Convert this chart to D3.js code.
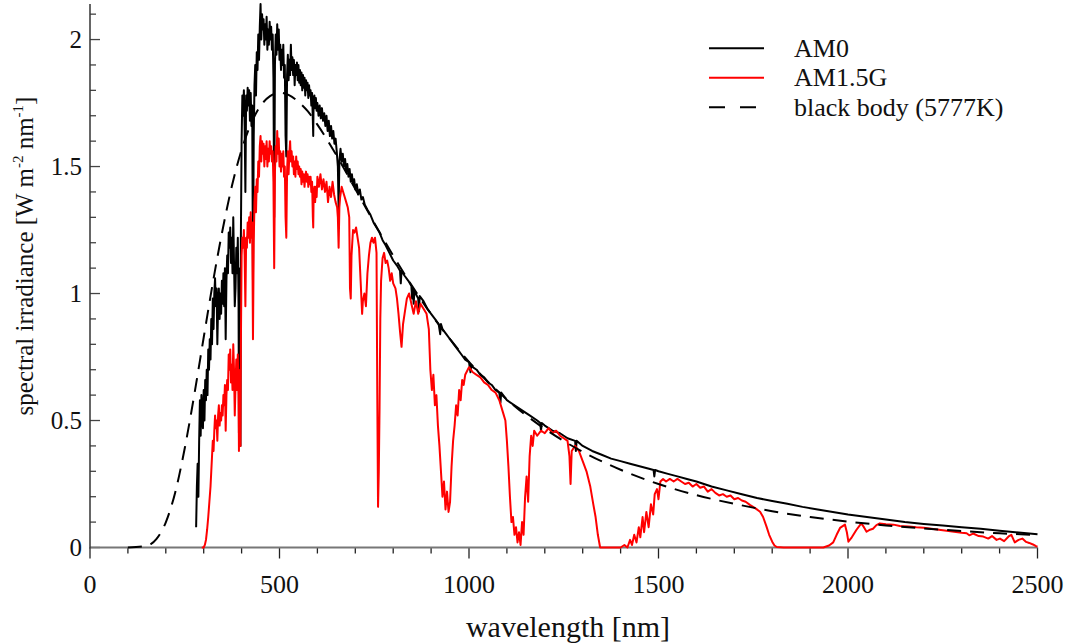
<!DOCTYPE html>
<html lang="en">
<head>
    <meta charset="utf-8">
    <title>Solar spectrum</title>
    <script src="https://cdn.jsdelivr.net/npm/d3@7"></script>
</head>
<style>
    body {
        margin: 0;
        background: #fff;
    }
    svg text {
        font-family: "Liberation Serif", "DejaVu Serif", serif;
        fill: #111;
    }
</style>
<body>
<script type="text/javascript">

    // AM0 spectrum [wavelength nm, W m-2 nm-1]
    var am0 = [
        [280,0.08],[282,0.24],[284,0.33],[286,0.20],[288,0.42],[290,0.58],[292,0.44],[294,0.60],[296,0.52],[298,0.47],
        [300,0.62],[302,0.50],[304,0.66],[306,0.58],[308,0.70],[310,0.60],[312,0.78],[314,0.70],[316,0.82],[318,0.74],
        [320,0.90],[322,0.80],[324,0.98],[326,0.86],[328,1.00],[330,1.06],[332,0.95],[334,1.02],[336,0.80],[338,0.96],
        [340,1.02],[342,0.90],[344,1.00],[346,0.92],[348,1.05],[350,0.96],[352,1.08],[354,0.95],[356,1.10],[358,0.82],
        [360,1.05],[362,1.15],[364,1.08],[366,1.24],[368,1.18],[370,1.26],[372,1.12],[374,1.22],[376,1.08],[378,1.30],
        [380,1.12],[382,0.95],[384,1.02],[386,1.18],[388,1.08],[390,1.22],[392,0.95],[393,0.45],[394,1.02],[396,1.10],
        [397,0.40],[398,1.20],[400,1.60],[402,1.78],[404,1.70],[406,1.80],[408,1.66],[410,1.40],[412,1.78],[414,1.72],
        [416,1.81],[418,1.74],[420,1.80],[422,1.68],[424,1.79],[426,1.66],[428,1.74],[430,1.05],[432,1.62],[434,1.82],
        [436,1.90],[438,1.78],[440,1.95],[442,1.88],[444,2.02],[446,1.92],[448,2.05],[450,2.14],[452,2.00],[454,2.10],
        [456,2.04],[458,2.08],[460,1.98],[462,2.06],[464,2.00],[466,2.09],[468,1.96],[470,2.04],[472,1.98],[474,2.07],
        [476,2.00],[478,2.05],[480,1.96],[482,2.02],[484,1.85],[486,1.30],[488,1.90],[490,2.02],[492,1.94],[494,2.06],
        [496,1.96],[498,2.04],[500,1.92],[502,1.98],[504,1.88],[506,1.96],[508,1.90],[510,1.98],[512,1.85],[514,1.90],
        [516,1.62],[518,1.54],[520,1.86],[522,1.94],[524,1.84],[526,1.92],[528,1.86],[530,1.98],[532,1.88],[534,1.93],
        [536,1.86],[538,1.92],[540,1.82],[542,1.90],[544,1.86],[546,1.91],[548,1.84],[550,1.90],[552,1.83],[554,1.88],
        [556,1.82],[558,1.87],[560,1.80],[562,1.86],[564,1.81],[566,1.85],[568,1.78],[570,1.84],[572,1.80],[574,1.83],
        [576,1.77],[578,1.82],[580,1.78],[582,1.80],[584,1.74],[586,1.79],[588,1.68],[589,1.62],[590,1.76],[592,1.78],
        [594,1.73],[596,1.77],[598,1.72],[600,1.75],[603,1.70],[606,1.74],[609,1.69],[612,1.73],[615,1.68],[618,1.71],
        [621,1.66],[624,1.70],[627,1.64],[630,1.68],[633,1.62],[636,1.66],[639,1.61],[642,1.64],[645,1.59],[648,1.61],
        [651,1.56],[654,1.50],[656,1.33],[658,1.52],[661,1.57],[664,1.52],[667,1.55],[670,1.50],[673,1.53],[676,1.48],
        [679,1.51],[682,1.46],[685,1.49],[688,1.44],[691,1.47],[694,1.43],[697,1.45],[700,1.41],[704,1.43],[708,1.39],
        [712,1.41],[716,1.37],[720,1.38],[725,1.35],[732,1.33],[740,1.31],[748,1.28],[756,1.26],[764,1.24],[772,1.21],
        [780,1.19],[790,1.16],[800,1.13],[810,1.11],[818,1.09],[820,1.04],[822,1.09],[830,1.07],[840,1.05],[848,1.03],
        [850,0.98],[852,1.02],[854,0.96],[856,1.01],[866,0.98],[868,0.93],[870,0.99],[880,0.97],[890,0.94],[900,0.92],
        [910,0.90],[920,0.88],[924,0.84],[926,0.88],[930,0.86],[940,0.84],[950,0.82],[960,0.80],[970,0.78],[980,0.76],
        [990,0.74],[1000,0.73],[1004,0.69],[1006,0.72],[1010,0.71],[1020,0.70],[1030,0.68],[1040,0.67],[1050,0.65],
        [1060,0.64],[1070,0.62],[1080,0.61],[1083,0.57],[1085,0.61],[1090,0.60],[1100,0.58],[1120,0.56],[1140,0.54],
        [1160,0.52],[1180,0.50],[1188,0.49],[1190,0.46],[1192,0.49],[1200,0.48],[1220,0.46],[1240,0.45],[1260,0.43],
        [1280,0.42],[1282,0.38],[1284,0.42],[1300,0.40],[1325,0.38],[1350,0.365],[1375,0.35],[1400,0.34],[1425,0.33],
        [1450,0.32],[1475,0.31],[1487,0.305],[1489,0.28],[1491,0.305],[1500,0.30],[1525,0.29],[1550,0.28],[1575,0.27],
        [1600,0.26],[1640,0.24],[1680,0.225],[1720,0.21],[1760,0.195],[1800,0.183],[1840,0.172],[1880,0.16],[1920,0.15],
        [1960,0.14],[2000,0.13],[2050,0.12],[2100,0.11],[2150,0.10],[2200,0.093],[2250,0.087],[2300,0.08],[2350,0.074],
        [2400,0.066],[2450,0.059],[2500,0.052]
    ];

    // AM1.5G spectrum [wavelength nm, W m-2 nm-1]
    var am15g = [
        [295,0],[300,0.0],[303,0.01],[306,0.03],[309,0.07],[312,0.12],[315,0.18],[318,0.24],[320,0.30],[322,0.36],
        [324,0.42],[326,0.38],[328,0.46],[330,0.52],[332,0.47],[334,0.50],[336,0.42],[338,0.52],[340,0.56],[342,0.48],
        [344,0.53],[346,0.50],[348,0.56],[350,0.52],[352,0.60],[354,0.56],[356,0.64],[358,0.46],[360,0.60],[362,0.66],
        [364,0.62],[366,0.76],[368,0.70],[370,0.78],[372,0.65],[374,0.72],[376,0.62],[378,0.80],[380,0.70],[382,0.52],
        [384,0.64],[386,0.74],[388,0.62],[390,0.76],[392,0.60],[393,0.38],[394,0.66],[396,0.70],[397,0.40],[398,0.78],
        [400,1.15],[402,1.22],[404,1.18],[406,1.25],[408,1.15],[410,0.95],[412,1.22],[414,1.18],[416,1.28],[418,1.22],
        [420,1.30],[422,1.20],[424,1.32],[426,1.22],[428,1.28],[430,0.82],[432,1.20],[434,1.36],[436,1.42],[438,1.32],
        [440,1.45],[442,1.40],[444,1.52],[446,1.46],[448,1.58],[450,1.62],[452,1.52],[454,1.60],[456,1.55],[458,1.59],
        [460,1.50],[462,1.58],[464,1.53],[466,1.60],[468,1.50],[470,1.57],[472,1.52],[474,1.60],[476,1.55],[478,1.58],
        [480,1.52],[482,1.56],[484,1.44],[486,1.10],[488,1.48],[490,1.58],[492,1.52],[494,1.64],[496,1.55],[498,1.61],
        [500,1.50],[502,1.56],[504,1.48],[506,1.55],[508,1.50],[510,1.56],[512,1.46],[514,1.50],[516,1.30],[518,1.22],
        [520,1.48],[522,1.56],[524,1.47],[526,1.55],[528,1.60],[530,1.52],[532,1.56],[534,1.50],[536,1.54],[538,1.47],
        [540,1.52],[542,1.46],[544,1.54],[546,1.49],[548,1.52],[550,1.47],[552,1.50],[554,1.46],[556,1.49],[558,1.43],
        [560,1.48],[562,1.44],[564,1.47],[566,1.42],[568,1.46],[570,1.48],[572,1.44],[574,1.47],[576,1.42],[578,1.46],
        [580,1.43],[582,1.46],[584,1.40],[586,1.44],[588,1.30],[589,1.26],[590,1.38],[592,1.42],[594,1.36],[596,1.42],
        [598,1.38],[600,1.46],[604,1.42],[608,1.47],[612,1.41],[616,1.45],[620,1.40],[624,1.44],[628,1.36],[632,1.42],
        [636,1.38],[640,1.44],[644,1.39],[648,1.36],[652,1.34],[654,1.30],[656,1.18],[658,1.34],[660,1.38],[664,1.42],
        [668,1.40],[672,1.38],[676,1.36],[680,1.34],[684,1.30],[686,1.02],[688,0.98],[690,1.15],[694,1.25],[698,1.24],
        [702,1.26],[706,1.22],[710,1.18],[714,1.05],[718,0.92],[720,0.97],[724,1.00],[728,0.95],[732,1.08],[736,1.15],
        [740,1.20],[744,1.22],[748,1.20],[752,1.22],[756,1.16],[758,0.60],[760,0.16],[762,0.30],[764,0.55],[766,0.90],
        [768,1.05],[772,1.14],[776,1.16],[780,1.12],[784,1.13],[788,1.10],[792,1.05],[796,1.08],[800,1.04],[806,1.02],
        [810,0.98],[814,0.92],[818,0.85],[822,0.79],[826,0.88],[830,0.92],[836,0.98],[842,1.00],[848,0.96],[854,0.92],
        [860,0.97],[866,0.92],[872,0.96],[880,0.94],[888,0.92],[894,0.86],[898,0.70],[902,0.62],[906,0.68],[910,0.56],
        [914,0.60],[918,0.48],[922,0.40],[926,0.30],[930,0.20],[934,0.26],[938,0.15],[942,0.22],[946,0.14],[950,0.18],
        [954,0.32],[958,0.42],[962,0.48],[966,0.56],[970,0.52],[974,0.62],[978,0.58],[982,0.66],[986,0.64],[990,0.68],
        [1000,0.71],[1010,0.69],[1020,0.68],[1030,0.67],[1040,0.65],[1050,0.64],[1060,0.62],[1070,0.61],[1080,0.58],
        [1090,0.53],[1096,0.50],[1100,0.42],[1104,0.32],[1108,0.20],[1112,0.10],[1116,0.12],[1120,0.05],[1124,0.08],
        [1128,0.02],[1132,0.06],[1136,0.01],[1140,0.10],[1144,0.05],[1148,0.20],[1152,0.28],[1156,0.18],[1160,0.36],
        [1164,0.44],[1168,0.40],[1172,0.46],[1180,0.44],[1190,0.46],[1200,0.45],[1210,0.47],[1220,0.45],[1230,0.46],
        [1240,0.44],[1250,0.43],[1260,0.42],[1265,0.36],[1268,0.25],[1271,0.38],[1280,0.40],[1290,0.38],[1300,0.34],
        [1310,0.30],[1320,0.24],[1328,0.17],[1334,0.12],[1340,0.05],[1346,0.0],[1400,0.0],[1410,0.01],[1418,0.0],
        [1425,0.03],[1430,0.01],[1436,0.05],[1442,0.02],[1448,0.08],[1452,0.04],[1458,0.12],[1462,0.06],[1468,0.14],
        [1474,0.08],[1480,0.17],[1486,0.13],[1490,0.21],[1496,0.23],[1500,0.19],[1505,0.26],[1512,0.27],[1520,0.26],
        [1530,0.27],[1540,0.26],[1550,0.27],[1560,0.26],[1570,0.25],[1580,0.255],[1590,0.24],[1600,0.25],[1610,0.235],
        [1620,0.24],[1630,0.22],[1640,0.23],[1650,0.215],[1660,0.205],[1670,0.21],[1680,0.20],[1690,0.205],[1700,0.19],
        [1710,0.195],[1720,0.185],[1730,0.18],[1742,0.167],[1755,0.155],[1768,0.141],[1776,0.12],[1785,0.082],[1792,0.05],
        [1800,0.023],[1806,0.008],[1812,0.002],[1830,0],[1935,0],[1950,0.008],[1961,0.02],[1970,0.05],[1979,0.077],
        [1992,0.09],[1997,0.06],[2001,0.023],[2010,0.04],[2022,0.069],[2035,0.095],[2042,0.08],[2049,0.062],[2058,0.07],
        [2066,0.074],[2075,0.088],[2084,0.095],[2100,0.092],[2120,0.09],[2137,0.085],[2160,0.083],[2180,0.08],[2200,0.078],
        [2220,0.074],[2240,0.07],[2260,0.066],[2280,0.062],[2300,0.058],[2313,0.056],[2320,0.048],[2330,0.055],[2345,0.045],
        [2357,0.043],[2370,0.035],[2380,0.045],[2392,0.03],[2401,0.035],[2412,0.025],[2425,0.045],[2431,0.05],[2440,0.02],
        [2450,0.03],[2460,0.035],[2470,0.022],[2478,0.018],[2488,0.012],[2496,0.005],[2500,0.004]
    ];

    // black body (5777K) curve
    var blackBody = [
        [100,0],[150,0.007],[175,0.033],[200,0.099],[225,0.218],[250,0.391],[275,0.600],[300,0.827],[325,1.050],
        [350,1.252],[375,1.427],[400,1.566],[425,1.669],[450,1.739],[475,1.777],[500,1.791],[525,1.781],[550,1.755],
        [575,1.717],[600,1.665],[650,1.545],[700,1.412],[750,1.278],[800,1.149],[850,1.029],[900,0.919],[950,0.820],
        [1000,0.731],[1100,0.583],[1200,0.467],[1300,0.377],[1400,0.306],[1500,0.250],[1600,0.206],[1700,0.172],
        [1800,0.143],[1900,0.120],[2000,0.102],[2100,0.087],[2200,0.075],[2300,0.065],[2400,0.056],[2500,0.049]
    ];

    var xTicks = [0, 500, 1000, 1500, 2000, 2500];
    var yTicks = [0, 0.5, 1, 1.5, 2];
    var legendNames = ['AM0', 'AM1.5G', 'black body (5777K)'];

    var width = 1067, height = 644;

    var svg = d3.select('body').append('svg')
        .attr('width', width)
        .attr('height', height);

    var x = d3.scaleLinear().domain([0, 2500]).range([90, 1037.5]);
    var y = d3.scaleLinear().domain([0, 2.14]).range([547.5, 4]);

    // minor ticks
    var xMinor = d3.range(0, 2501, 100);
    var yMinor = d3.range(0, 2.15, 0.1);

    svg.append('g').selectAll('line')
        .data(xMinor)
        .enter().append('line')
        .attr('x1', function (d) { return x(d); })
        .attr('x2', function (d) { return x(d); })
        .attr('y1', y(0))
        .attr('y2', function (d) { return xTicks.indexOf(d) >= 0 ? y(0) + 11 : y(0) + 6; })
        .attr('stroke', '#222')
        .attr('stroke-width', 1.3);

    svg.append('g').selectAll('line')
        .data(yMinor)
        .enter().append('line')
        .attr('x1', x(0))
        .attr('x2', function (d) {
            var major = Math.abs(d * 2 - Math.round(d * 2)) < 1e-6;
            return major ? x(0) + 10 : x(0) + 6;
        })
        .attr('y1', function (d) { return y(d); })
        .attr('y2', function (d) { return y(d); })
        .attr('stroke', '#444')
        .attr('stroke-width', 1.3);

    // axis lines
    svg.append('line')
        .attr('x1', x(0)).attr('x2', x(2500))
        .attr('y1', y(0)).attr('y2', y(0))
        .attr('stroke', '#777').attr('stroke-width', 2);
    svg.append('line')
        .attr('x1', x(0)).attr('x2', x(0))
        .attr('y1', y(0) + 1).attr('y2', y(2.14))
        .attr('stroke', '#333').attr('stroke-width', 1.5);

    svg.append('g').selectAll('text')
        .data(xTicks)
        .enter().append('text')
        .attr('x', function (d) { return x(d); })
        .attr('y', 593)
        .attr('text-anchor', 'middle')
        .style('font-size', '26px')
        .text(function (d) { return d; });

    svg.append('g').selectAll('text')
        .data(yTicks)
        .enter().append('text')
        .attr('x', 82)
        .attr('y', function (d) { return y(d); })
        .attr('dy', '0.34em')
        .attr('text-anchor', 'end')
        .style('font-size', '25px')
        .text(function (d) { return d; });

    // axis titles
    svg.append('text')
        .attr('x', 568)
        .attr('y', 637)
        .attr('text-anchor', 'middle')
        .style('font-size', '30px')
        .text('wavelength [nm]');

    var yTitle = svg.append('text')
        .attr('transform', 'translate(33,256) rotate(-90)')
        .attr('text-anchor', 'middle')
        .style('font-size', '25px');
    yTitle.append('tspan').text('spectral irradiance [W m');
    yTitle.append('tspan').attr('dy', -10).style('font-size', '15px').text('-2');
    yTitle.append('tspan').attr('dy', 10).text(' nm');
    yTitle.append('tspan').attr('dy', -10).style('font-size', '15px').text('-1');
    yTitle.append('tspan').attr('dy', 10).text(']');

    var line = d3.line()
        .x(function (d) { return x(d[0]); })
        .y(function (d) { return y(d[1]); });

    svg.append('path')
        .datum(am0)
        .attr('d', line)
        .attr('fill', 'none')
        .attr('stroke', '#000')
        .attr('stroke-width', 2)
        .attr('stroke-linejoin', 'round');

    svg.append('path')
        .datum(am15g)
        .attr('d', line)
        .attr('fill', 'none')
        .attr('stroke', '#ff0000')
        .attr('stroke-width', 2)
        .attr('stroke-linejoin', 'round');

    svg.append('path')
        .datum(blackBody)
        .attr('d', line.curve(d3.curveMonotoneX))
        .attr('fill', 'none')
        .attr('stroke', '#000')
        .attr('stroke-width', 2)
        .attr('stroke-dasharray', '14,9');

    // legend
    var legendStyles = [
        {color: '#000', dash: null},
        {color: '#ff0000', dash: null},
        {color: '#000', dash: '16,15'}
    ];
    var legend = svg.append('g');
    legendNames.forEach(function (name, i) {
        var ly = 48.3 + i * 29.5;
        legend.append('line')
            .attr('x1', 709).attr('x2', 764)
            .attr('y1', ly).attr('y2', ly)
            .attr('stroke', legendStyles[i].color)
            .attr('stroke-width', 2)
            .attr('stroke-dasharray', legendStyles[i].dash);
        legend.append('text')
            .attr('x', 794)
            .attr('y', ly + 8.5)
            .style('font-size', '26px')
            .text(name);
    });

</script>
</body>
</html>
